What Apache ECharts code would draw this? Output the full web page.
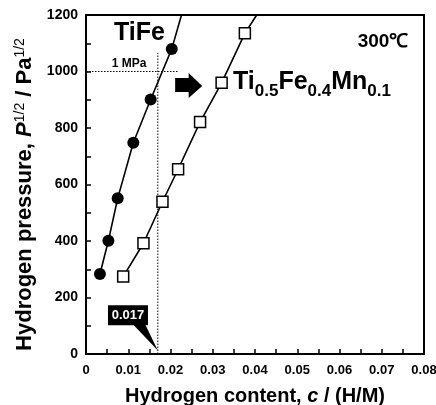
<!DOCTYPE html>
<html>
<head>
<meta charset="utf-8">
<script src="https://cdn.jsdelivr.net/npm/echarts@6/dist/echarts.min.js"></script>
<style>html,body{margin:0;padding:0;background:#fff}#c{width:436px;height:405px}</style>
</head>
<body>
<div id="c"></div>
<script>
// ---- data ----
var tiFeX = [0.0033, 0.0053, 0.0075, 0.0112, 0.0153, 0.0203];
var tiFeY = [283, 401, 551, 748, 901, 1080];
var tiFeLineEnd = [0.0226, 1200];
var mnX = [0.0088, 0.0136, 0.0181, 0.0218, 0.0270, 0.0321, 0.0376];
var mnY = [274, 392, 539, 654, 821, 960, 1135];
var mnLineEnd = [0.0404, 1200];
var xTicks = [0, 0.01, 0.02, 0.03, 0.04, 0.05, 0.06, 0.07, 0.08];
var yTicks = [0, 200, 400, 600, 800, 1000, 1200];
var guideH = [[0, 1000], [0.0218, 1000]];
var guideV = [[0.017, 0], [0.017, 1065]];
var calloutValue = '0.017';

var FONT = '"Liberation Sans", Arial, sans-serif';
function pairs(xs, ys) { return xs.map(function (x, i) { return [x, ys[i]]; }); }

var chart = echarts.init(document.getElementById('c'), null, { renderer: 'canvas' });
var option = {
  animation: false,
  backgroundColor: '#fff',
  grid: { left: 86, top: 15, right: 12, bottom: 51, containLabel: false, outerBoundsMode: 'none',
    show: true, borderColor: '#000', borderWidth: 2, backgroundColor: 'transparent' },
  xAxis: {
    type: 'value', min: xTicks[0], max: xTicks[xTicks.length - 1], interval: 0.01,
    name: 'Hydrogen content, {i|c} / (H/M)', nameLocation: 'middle', nameGap: 32,
    nameTextStyle: { fontFamily: FONT, fontWeight: 'bold', fontSize: 20, color: '#000',
      rich: { i: { fontFamily: FONT, fontWeight: 'bold', fontStyle: 'italic', fontSize: 20, color: '#000' } } },
    axisLine: { show: true, lineStyle: { color: '#000', width: 2 } },
    axisTick: { show: true, inside: true, length: 5, lineStyle: { color: '#000', width: 1.5 } },
    minorTick: { show: true, splitNumber: 2, length: 5, lineStyle: { color: '#000', width: 1.5 } },
    splitLine: { show: false },
    axisLabel: { fontFamily: FONT, fontWeight: 'bold', fontSize: 13, color: '#000', margin: 10,
      formatter: function (v) { return v === 0 ? '0' : v.toFixed(2); } }
  },
  yAxis: {
    type: 'value', min: yTicks[0], max: yTicks[yTicks.length - 1], interval: 200,
    name: 'Hydrogen pressure, {i|P}{sup|1/2} / Pa{sup|1/2}', nameLocation: 'middle', nameGap: 45,
    nameTextStyle: { fontFamily: FONT, fontWeight: 'bold', fontSize: 22, color: '#000', verticalAlign: 'bottom',
      padding: [0, 20, 0, 0],
      rich: {
        i: { fontFamily: FONT, fontWeight: 'bold', fontStyle: 'italic', fontSize: 22, color: '#000' },
        sup: { fontFamily: FONT, fontWeight: 'normal', fontSize: 14, color: '#000', verticalAlign: 'top', padding: [0, 0, 10, 0] }
      } },
    axisLine: { show: true, lineStyle: { color: '#000', width: 2 } },
    axisTick: { show: true, inside: true, length: 5, lineStyle: { color: '#000', width: 1.5 } },
    minorTick: { show: true, splitNumber: 2, length: 5, lineStyle: { color: '#000', width: 1.5 } },
    splitLine: { show: false },
    axisLabel: { fontFamily: FONT, fontWeight: 'bold', fontSize: 14, color: '#000', margin: 8,
      formatter: function (v) { return String(v); } }
  },
  series: [
    { type: 'line', data: guideH, symbol: 'none', silent: true,
      lineStyle: { color: '#000', width: 1, type: [1.5, 1.5] }, z: 1 },
    { type: 'line', data: guideV, symbol: 'none', silent: true,
      lineStyle: { color: '#000', width: 1, type: [1.5, 1.5] }, z: 1 },
    { type: 'line', data: pairs(tiFeX, tiFeY).concat([tiFeLineEnd]), symbol: 'none',
      lineStyle: { color: '#000', width: 1.6 }, z: 2 },
    { type: 'line', data: pairs(mnX, mnY).concat([mnLineEnd]), symbol: 'none',
      lineStyle: { color: '#000', width: 1.6 }, z: 2 },
    { type: 'scatter', data: pairs(tiFeX, tiFeY), symbol: 'circle', symbolSize: 12,
      itemStyle: { color: '#000', opacity: 1 }, z: 3 },
    { type: 'scatter', data: pairs(mnX, mnY), symbol: 'rect', symbolSize: 11,
      itemStyle: { color: '#fff', borderColor: '#000', borderWidth: 1.5, opacity: 1 }, z: 3 }
  ]
};
chart.setOption(option);

function px(x, y) { return chart.convertToPixel({ gridIndex: 0 }, [x, y]); }

var tip = px(0.017, 12);
var boxTL = px(0.0052, 173), boxBR = px(0.01467, 102);
var triA = px(0.0111, 102), triB = px(0.0140, 102);
var arrowP = [
  px(0.0211, 977), px(0.0243, 977), px(0.0243, 995), px(0.0275, 949),
  px(0.0243, 906), px(0.0243, 927), px(0.0211, 927)
];
var tiFeLbl = px(0.01266, 1135);
var mnLbl = px(0.0348, 963);
var tempLbl = px(0.0703, 1104);
var mpaLbl = px(0.0102, 1027);

chart.setOption({
  graphic: [
    { type: 'polygon', shape: { points: arrowP }, style: { fill: '#000' }, z: 10 },
    { type: 'rect', shape: { x: boxTL[0], y: boxTL[1], width: boxBR[0] - boxTL[0], height: boxBR[1] - boxTL[1] },
      style: { fill: '#000' }, z: 10 },
    { type: 'polygon', shape: { points: [[triA[0], triA[1] - 1], [triB[0], triB[1] - 1], tip] }, style: { fill: '#000' }, z: 10 },
    { type: 'text', x: (boxTL[0] + boxBR[0]) / 2, y: (boxTL[1] + boxBR[1]) / 2, z: 11,
      style: { text: calloutValue, fill: '#fff', font: 'bold 13px ' + FONT, align: 'center', verticalAlign: 'middle' } },
    { type: 'text', x: tiFeLbl[0], y: tiFeLbl[1], z: 11,
      style: { text: 'TiFe', fill: '#000', font: 'bold 25px ' + FONT, align: 'center', verticalAlign: 'middle' } },
    { type: 'text', x: mnLbl[0], y: mnLbl[1], z: 11,
      style: { text: '{m|Ti}{s|0.5}{m|Fe}{s|0.4}{m|Mn}{s|0.1}', align: 'left', verticalAlign: 'middle',
        rich: {
          m: { font: 'bold 25px ' + FONT, fill: '#000', verticalAlign: 'bottom' },
          s: { font: 'bold 17px ' + FONT, fill: '#000', verticalAlign: 'bottom', padding: [0, 0, -5, 0] }
        } } },
    { type: 'text', x: tempLbl[0], y: tempLbl[1], z: 11,
      style: { text: '300℃', fill: '#000', font: 'bold 19px ' + FONT, align: 'center', verticalAlign: 'middle' } },
    { type: 'text', x: mpaLbl[0], y: mpaLbl[1], z: 11,
      style: { text: '1 MPa', fill: '#000', font: 'bold 12px ' + FONT, align: 'center', verticalAlign: 'middle' } }
  ]
});
</script>
</body>
</html>
